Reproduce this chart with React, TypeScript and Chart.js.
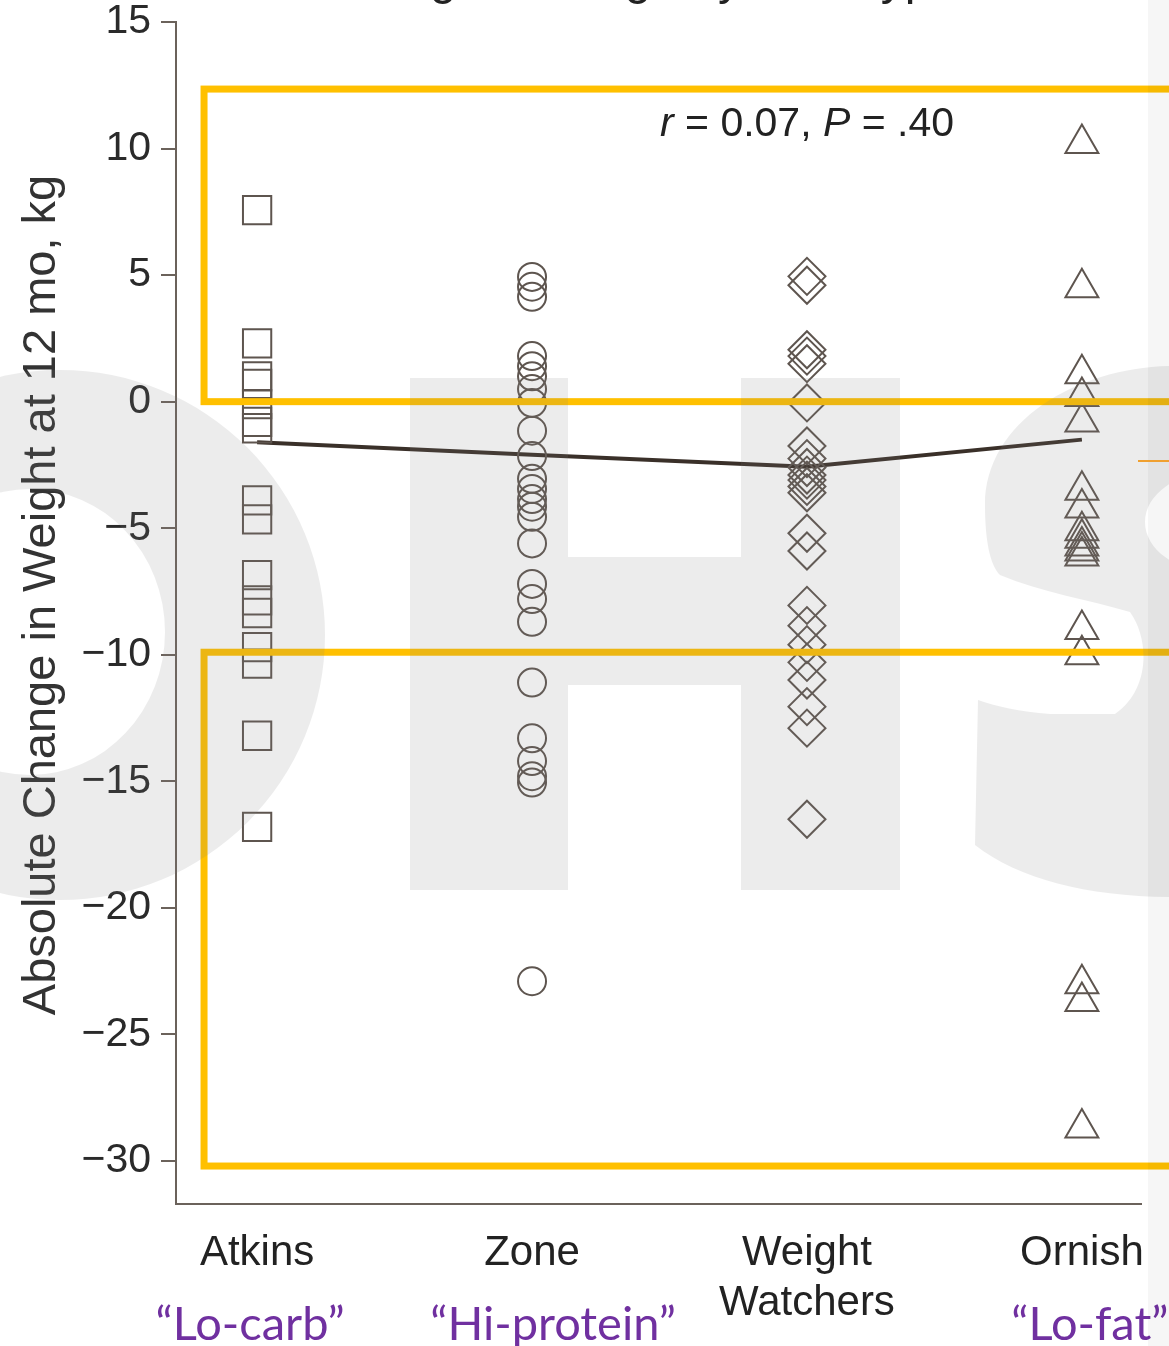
import React, { useEffect, useRef } from "react";
import { Chart, registerables } from "chart.js";

Chart.register(...registerables);

// ---------- data ----------
const CATEGORIES = ["Atkins", "Zone", "Weight\nWatchers", "Ornish"];
const NICKNAMES = ["“Lo-carb”", "“Hi-protein”", "", "“Lo-fat”"];
const Y_TICKS = [15, 10, 5, 0, -5, -10, -15, -20, -25, -30];

const ATKINS = [7.57, 2.3, 1.0, 0.7, -0.1, -0.8, -1.05, -3.9, -4.65, -6.85, -7.85, -8.35, -9.7, -10.35, -13.2, -16.8];
const ZONE = [4.93, 4.54, 4.14, 1.8, 1.4, 1.0, 0.5, -0.05, -1.15, -2.15, -3.05, -3.45, -3.85, -4.15, -4.55, -5.6, -7.2, -7.8, -8.7, -11.1, -13.3, -14.2, -14.8, -15.05, -22.9];
const WEIGHT_WATCHERS = [4.95, 4.6, 2.05, 1.8, 1.5, -0.05, -1.75, -2.25, -2.6, -2.9, -3.1, -3.35, -3.6, -5.2, -5.9, -8.05, -8.85, -9.6, -10.3, -11.0, -12.05, -12.9, -16.5];
const ORNISH = [10.2, 4.5, 1.1, 0.2, -0.8, -3.5, -4.2, -5.1, -5.4, -5.7, -5.9, -6.1, -9.0, -10.0, -23.0, -23.7, -28.7];
const GROUP_MEANS = [-1.6, -2.1, -2.57, -1.5];

// highlighted bands (in kg)
const BAND_TOPS = [12.35, -9.9];
const BAND_BOTTOMS = [0, -30.2];

const TITLE = "Weight Change by Diet Type";
const Y_TITLE = "Absolute Change in Weight at 12 mo, kg";
const STAT_PARTS = [
  { t: "r", italic: true },
  { t: " = 0.07, ", italic: false },
  { t: "P", italic: true },
  { t: " = .40", italic: false },
];

// ---------- styles ----------
const FONT = "'Liberation Sans', Arial, Helvetica, sans-serif";
const MARK = "#5e554f";
const AXIS = "#6b625b";
const NICK_DX = [-7, 21, 0, 8];

const overlay = {
  id: "overlay",
  beforeDraw(chart: any) {
    const ctx = chart.ctx;
    ctx.save();
    ctx.fillStyle = "#ffffff";
    ctx.fillRect(0, 0, chart.width, chart.height);
    ctx.restore();
  },
  afterDraw(chart: any) {
    const ctx: CanvasRenderingContext2D = chart.ctx;
    const xs = chart.scales.x;
    const ys = chart.scales.y;
    const W = chart.width;
    ctx.save();

    // cut-off title at top
    ctx.fillStyle = "#222";
    ctx.font = `48px ${FONT}`;
    ctx.textAlign = "left";
    ctx.textBaseline = "alphabetic";
    ctx.fillText(TITLE, 348, -6);

    // y axis title
    ctx.save();
    ctx.translate(55, 595);
    ctx.rotate(-Math.PI / 2);
    ctx.textAlign = "center";
    ctx.font = `47px ${FONT}`;
    ctx.fillStyle = "#333";
    ctx.fillText(Y_TITLE, 0, 0);
    ctx.restore();

    // stat annotation
    let sx = 660;
    for (const p of STAT_PARTS) {
      ctx.font = `${p.italic ? "italic " : ""}41px ${FONT}`;
      ctx.fillStyle = "#222";
      ctx.fillText(p.t, sx, 136);
      sx += ctx.measureText(p.t).width;
    }

    // nicknames
    ctx.font = "47px Lato, 'Open Sans', sans-serif";
    ctx.fillStyle = "#7030A0";
    ctx.textAlign = "center";
    NICKNAMES.forEach((n, i) => {
      if (!n) return;
      ctx.fillText(n, xs.getPixelForValue(i + 1) + NICK_DX[i], 1340);
    });

    // yellow highlight bands
    ctx.strokeStyle = "#FFC000";
    ctx.lineWidth = 7;
    const left = xs.getPixelForValue(0.807);
    BAND_TOPS.forEach((t, i) => {
      const top = ys.getPixelForValue(t);
      const bot = ys.getPixelForValue(BAND_BOTTOMS[i]);
      ctx.strokeRect(left, top, W + 20 - left, bot - top);
    });

    // watermark "OHS"
    ctx.fillStyle = "rgba(128,128,128,0.15)";
    // O
    ctx.beginPath();
    ctx.ellipse(60, 635, 265, 265, 0, 0, Math.PI * 2);
    ctx.ellipse(30, 632, 135, 143, 0, 0, Math.PI * 2);
    ctx.fill("evenodd");
    // H
    ctx.beginPath();
    ctx.moveTo(410, 378);
    ctx.lineTo(568, 378);
    ctx.lineTo(568, 557);
    ctx.lineTo(741, 557);
    ctx.lineTo(741, 378);
    ctx.lineTo(900, 378);
    ctx.lineTo(900, 890);
    ctx.lineTo(741, 890);
    ctx.lineTo(741, 685);
    ctx.lineTo(568, 685);
    ctx.lineTo(568, 890);
    ctx.lineTo(410, 890);
    ctx.closePath();
    ctx.fill();
    // S
    ctx.beginPath();
    ctx.moveTo(1175, 366);
    ctx.bezierCurveTo(1080, 366, 985, 420, 985, 505);
    ctx.bezierCurveTo(985, 540, 990, 565, 1000, 575);
    ctx.bezierCurveTo(1040, 592, 1090, 600, 1130, 612);
    ctx.bezierCurveTo(1150, 640, 1150, 690, 1115, 714);
    ctx.lineTo(1050, 714);
    ctx.bezierCurveTo(1020, 712, 995, 706, 978, 700);
    ctx.lineTo(975, 845);
    ctx.bezierCurveTo(1020, 880, 1090, 897, 1175, 897);
    ctx.closePath();
    ctx.ellipse(1215, 522, 70, 50, 0, 0, Math.PI * 2);
    ctx.fill("evenodd");

    // right edge strip
    ctx.fillStyle = "rgba(0,0,0,0.035)";
    ctx.fillRect(1148, 0, W - 1148, chart.height);

    // small orange line at right edge
    ctx.strokeStyle = "#F0A030";
    ctx.lineWidth = 2;
    ctx.beginPath();
    ctx.moveTo(1138, 461);
    ctx.lineTo(W, 461);
    ctx.stroke();

    ctx.restore();
  },
};

export default function App() {
  const ref = useRef<HTMLCanvasElement>(null);

  useEffect(() => {
    const canvas = ref.current;
    if (!canvas) return;
    const pts = (vals: number[], i: number) => vals.map((v) => ({ x: i + 1, y: v }));
    const markerDs = (vals: number[], i: number, style: any, r: number) => ({
      type: "scatter" as const,
      data: pts(vals, i),
      pointStyle: style,
      pointRadius: r,
      pointHoverRadius: r,
      borderColor: MARK,
      backgroundColor: "rgba(0,0,0,0)",
      pointBorderWidth: 2,
      borderWidth: 2,
      order: 1,
    });

    const chart = new Chart(canvas, {
      type: "scatter",
      data: {
        datasets: [
          {
            type: "line",
            data: GROUP_MEANS.map((v, i) => ({ x: i + 1, y: v })),
            borderColor: "#3a3029",
            borderWidth: 4,
            pointRadius: 0,
            fill: false,
            tension: 0,
            order: 5,
          } as any,
          markerDs(ATKINS, 0, "rect", 20),
          markerDs(ZONE, 1, "circle", 14),
          markerDs(WEIGHT_WATCHERS, 2, "rectRot", 18.5),
          markerDs(ORNISH, 3, "triangle", 19),
        ],
      },
      options: {
        responsive: false,
        animation: false,
        devicePixelRatio: 1,
        events: [],
        layout: { padding: { top: 22, right: 28, left: 0, bottom: 0 } },
        plugins: { legend: { display: false }, tooltip: { enabled: false } },
        scales: {
          x: {
            type: "linear",
            min: 0.705,
            max: 4.215,
            afterBuildTicks: (s: any) => {
              s.ticks = CATEGORIES.map((_, i) => ({ value: i + 1 }));
            },
            afterFit: (s: any) => {
              s.height = 142;
              s.paddingLeft = 0;
              s.paddingRight = 0;
            },
            grid: { drawOnChartArea: false, drawTicks: false },
            border: { display: true, color: AXIS, width: 2 },
            ticks: {
              autoSkip: false,
              maxRotation: 0,
              padding: 24,
              color: "#222",
              font: { family: FONT, size: 42, lineHeight: 1.2 },
              callback: (v: any) => {
                const c = CATEGORIES[Math.round(Number(v)) - 1];
                return c ? c.split("\n") : "";
              },
            },
          },
          y: {
            type: "linear",
            min: -31.7,
            max: 15,
            afterBuildTicks: (s: any) => {
              s.ticks = Y_TICKS.map((v) => ({ value: v }));
            },
            afterFit: (s: any) => {
              s.width = 176;
              s.paddingTop = 0;
              s.paddingBottom = 0;
            },
            grid: { drawOnChartArea: false, drawTicks: true, tickLength: 15, color: AXIS, lineWidth: 2 },
            border: { display: true, color: AXIS, width: 2 },
            ticks: {
              padding: 10,
              color: "#2a2a2a",
              font: { family: FONT, size: 41, lineHeight: 0.5 },
              callback: (v: any) => (Number(v) < 0 ? "\u2212" + Math.abs(Number(v)) : String(v)),
            },
          },
        },
      },
      plugins: [overlay],
    } as any);

    return () => chart.destroy();
  }, []);

  return (
    <div style={{ position: "fixed", left: 0, top: 0, width: 1169, height: 1346, background: "#fff" }}>
      <canvas ref={ref} width={1169} height={1346} style={{ display: "block", width: 1169, height: 1346 }} />
    </div>
  );
}
